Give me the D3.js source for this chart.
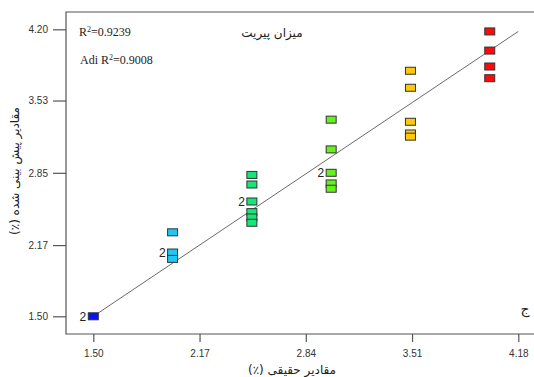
<!DOCTYPE html>
<html>
<head>
<meta charset="utf-8">
<script src="https://cdn.jsdelivr.net/npm/d3@7"></script>
<style>
  body { margin: 0; background: #fff; }
  svg { display: block; }
</style>
</head>
<body>
<svg width="534" height="377"></svg>
<script>
// actual vs predicted values, one group per colour
let actual    = [1.50, 2.00, 2.50, 3.00, 3.50, 4.00];
let predicted = [
  [1.50],
  [2.29, 2.10, 2.04],
  [2.83, 2.74, 2.58, 2.48, 2.43, 2.38],
  [3.35, 3.07, 2.85, 2.75, 2.70],
  [3.81, 3.65, 3.33, 3.22, 3.19],
  [4.18, 4.00, 3.85, 3.74]
];
// points that carry a "2" (two runs at the same spot)
let doubles = [[0, 0], [1, 1], [2, 2], [3, 2]];
let colors = ["#0a14f0", "#1ec8f5", "#14e678", "#66f01e", "#ffc80a", "#ff0a0a"];

let xTicks = [1.50, 2.17, 2.84, 3.51, 4.18];
let yTicks = [1.50, 2.17, 2.85, 3.53, 4.20];
let fitLine = [1.50, 4.18];

let svg = d3.select("svg");

let x = d3.scaleLinear().domain([1.5, 4.18]).range([93.3, 518.3]);
let y = d3.scaleLinear().domain([1.5, 4.2]).range([316.3, 29.3]);

let frameL = 66, frameT = 12, frameB = 334, frameR = 540;

// frame
svg.append("path")
  .attr("d", `M${frameR},${frameT}H${frameL}V${frameB}H${frameR}`)
  .attr("fill", "none")
  .attr("stroke", "#555")
  .attr("stroke-width", 1.2);

// axes
let xAxis = svg.append("g")
  .attr("transform", `translate(0,${frameB})`)
  .call(d3.axisBottom(x).tickValues(xTicks).tickFormat(d3.format(".2f")).tickSize(8).tickSizeOuter(0));
let yAxis = svg.append("g")
  .attr("transform", `translate(${frameL},0)`)
  .call(d3.axisLeft(y).tickValues(yTicks).tickFormat(d3.format(".2f")).tickSize(13).tickSizeOuter(0));

[xAxis, yAxis].forEach(a => {
  a.select(".domain").remove();
  a.selectAll("line").attr("stroke", "#555").attr("stroke-width", 1.2);
  a.selectAll("text")
    .attr("fill", "#333")
    .style("font-family", "Arial, 'Liberation Sans', sans-serif")
    .style("font-size", "10px");
});
xAxis.selectAll("text").attr("dy", "1.2em");
yAxis.selectAll("text").attr("x", -18);

// y = x line
svg.append("line")
  .attr("x1", x(fitLine[0])).attr("y1", y(fitLine[0]))
  .attr("x2", x(fitLine[1])).attr("y2", y(fitLine[1]))
  .attr("stroke", "#444")
  .attr("stroke-width", 0.8);

// points
let pts = [];
predicted.forEach((arr, i) => arr.forEach((v, j) => pts.push({a: actual[i], p: v, g: i, j: j})));

svg.append("g").selectAll("rect")
  .data(pts)
  .enter()
  .append("rect")
  .attr("x", d => x(d.a) - 5)
  .attr("y", d => y(d.p) - 3.5)
  .attr("width", 10)
  .attr("height", 7)
  .attr("fill", d => colors[d.g])
  .attr("stroke", "#333")
  .attr("stroke-width", 1);

svg.append("g").selectAll("text")
  .data(doubles)
  .enter()
  .append("text")
  .attr("x", d => x(actual[d[0]]) - 7)
  .attr("y", d => y(predicted[d[0]][d[1]]) + 4.5)
  .attr("text-anchor", "end")
  .attr("fill", "#222")
  .style("font-family", "Arial, 'Liberation Sans', sans-serif")
  .style("font-size", "12px")
  .text("2");

// annotations
let serif = "'Liberation Serif', 'Times New Roman', serif";
let r1 = svg.append("text").attr("x", 79).attr("y", 36)
  .style("font-family", serif).style("font-size", "12px").attr("fill", "#222");
r1.append("tspan").text("R");
r1.append("tspan").text("2").attr("dy", -4).style("font-size", "8px");
r1.append("tspan").text("=0.9239").attr("dy", 4);

let r2 = svg.append("text").attr("x", 80).attr("y", 64)
  .style("font-family", serif).style("font-size", "12px").attr("fill", "#222");
r2.append("tspan").text("Adi R");
r2.append("tspan").text("2").attr("dy", -4).style("font-size", "8px");
r2.append("tspan").text("=0.9008").attr("dy", 4);

let arab = "'DejaVu Sans', sans-serif";
function arabic(t) {
  return t.attr("text-anchor", "middle")
    .attr("direction", "rtl")
    .style("unicode-bidi", "embed")
    .style("font-family", arab)
    .attr("fill", "#222");
}

arabic(svg.append("text").attr("x", 272).attr("y", 37))
  .style("font-size", "12px")
  .text("میزان پیریت");

arabic(svg.append("text").attr("x", 525).attr("y", 314))
  .style("font-size", "14px")
  .text("ج");

arabic(svg.append("text").attr("x", 292).attr("y", 374))
  .style("font-size", "12px")
  .text("مقادیر حقیقی (٪)");

arabic(svg.append("text").attr("transform", "translate(19,171) rotate(-90)"))
  .style("font-size", "12px")
  .text("مقادیر پیش بینی شده (٪)");
</script>
</body>
</html>
